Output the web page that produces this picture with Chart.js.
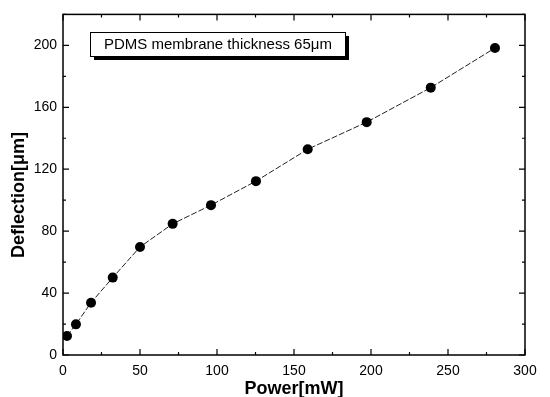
<!DOCTYPE html>
<html><head><meta charset="utf-8">
<script src="https://cdn.jsdelivr.net/npm/chart.js@4"></script>
<style>html,body{margin:0;padding:0;background:#fff}#wrap{width:550px;height:397px;position:relative}</style>
</head><body><div id="wrap"><canvas id="c" width="550" height="397"></canvas></div>
<script>
const power = [2.6, 8.4, 18.2, 32.3, 50, 71.2, 96.1, 125.3, 158.9, 197.2, 238.8, 280.5];
const deflection = [12.3, 19.8, 33.8, 50, 69.8, 84.7, 96.8, 112.3, 132.9, 150.4, 172.7, 198.3];
const xTicks = [0, 50, 100, 150, 200, 250, 300];
const yTicks = [0, 40, 80, 120, 160, 200];
const legendText = 'PDMS membrane thickness 65\u03bcm';
const xTitle = 'Power[mW]';
const yTitle = 'Deflection[\u03bcm]';

const FONT = '"Liberation Sans", Arial, sans-serif';

const frame = {
  id: 'frame',
  afterDraw(chart) {
    const {ctx, chartArea: a, scales: {x, y}} = chart;
    ctx.save();
    ctx.strokeStyle = '#000';
    ctx.lineWidth = 1.5;
    ctx.strokeRect(a.left, a.top, a.right - a.left, a.bottom - a.top);
    ctx.lineWidth = 1.2;
    for (let v = 0; v <= 300; v += 25) {
      const px = x.getPixelForValue(v);
      const L = v % 50 === 0 ? 6 : 3;
      ctx.beginPath();
      ctx.moveTo(px, a.bottom); ctx.lineTo(px, a.bottom - L);
      ctx.moveTo(px, a.top); ctx.lineTo(px, a.top + L);
      ctx.stroke();
    }
    for (let v = 0; v <= 220; v += 20) {
      const py = y.getPixelForValue(v);
      const L = v % 40 === 0 ? 6 : 3;
      ctx.beginPath();
      ctx.moveTo(a.left, py); ctx.lineTo(a.left + L, py);
      ctx.moveTo(a.right, py); ctx.lineTo(a.right - L, py);
      ctx.stroke();
    }
    // y title
    ctx.save();
    ctx.translate(19, 195);
    ctx.rotate(-Math.PI / 2);
    ctx.fillStyle = '#000';
    ctx.font = 'bold 18px ' + FONT;
    ctx.textAlign = 'center';
    ctx.textBaseline = 'middle';
    ctx.fillText(yTitle, 0, 0);
    ctx.restore();
    // legend box
    const bx = 90, by = 32, bw = 255, bh = 24;
    ctx.fillStyle = '#000';
    ctx.fillRect(bx + 4, by + 4, bw, bh);
    ctx.fillStyle = '#fff';
    ctx.fillRect(bx, by, bw, bh);
    ctx.lineWidth = 1;
    ctx.strokeRect(bx + 0.5, by + 0.5, bw, bh);
    ctx.fillStyle = '#000';
    ctx.font = '15px ' + FONT;
    ctx.textBaseline = 'middle';
    ctx.textAlign = 'left';
    ctx.fillText(legendText, bx + 14, by + bh / 2 + 1);
    ctx.restore();
  }
};

new Chart(document.getElementById('c'), {
  type: 'scatter',
  data: {
    datasets: [{
      data: power.map((p, i) => ({x: p, y: deflection[i]})),
      showLine: true,
      borderColor: '#222',
      borderWidth: 1,
      borderDash: [6, 2],
      pointRadius: 5,
      pointBackgroundColor: '#000',
      pointBorderColor: '#000',
      pointBorderWidth: 0
    }]
  },
  options: {
    responsive: false,
    animation: false,
    layout: {padding: {top: 8, right: 25, left: 0, bottom: 0}},
    plugins: {legend: {display: false}, tooltip: {enabled: false}},
    scales: {
      x: {
        type: 'linear', min: 0, max: 300,
        grid: {display: false, drawTicks: false},
        border: {display: false},
        afterBuildTicks: s => { s.ticks = xTicks.map(v => ({value: v})); },
        afterFit: s => { s.height = 42; },
        ticks: {color: '#000', padding: 8, font: {family: FONT, size: 14}, maxRotation: 0},
        title: {display: true, text: xTitle, color: '#000', padding: {top: 0, bottom: -3}, font: {family: FONT, size: 18, weight: 'bold'}}
      },
      y: {
        type: 'linear', min: 0, max: 220,
        grid: {display: false, drawTicks: false},
        border: {display: false},
        afterBuildTicks: s => { s.ticks = yTicks.map(v => ({value: v})); },
        afterFit: s => { s.width = 63; },
        ticks: {color: '#000', padding: 6, font: {family: FONT, size: 14}}
      }
    }
  },
  plugins: [frame]
});
</script>
</body></html>
